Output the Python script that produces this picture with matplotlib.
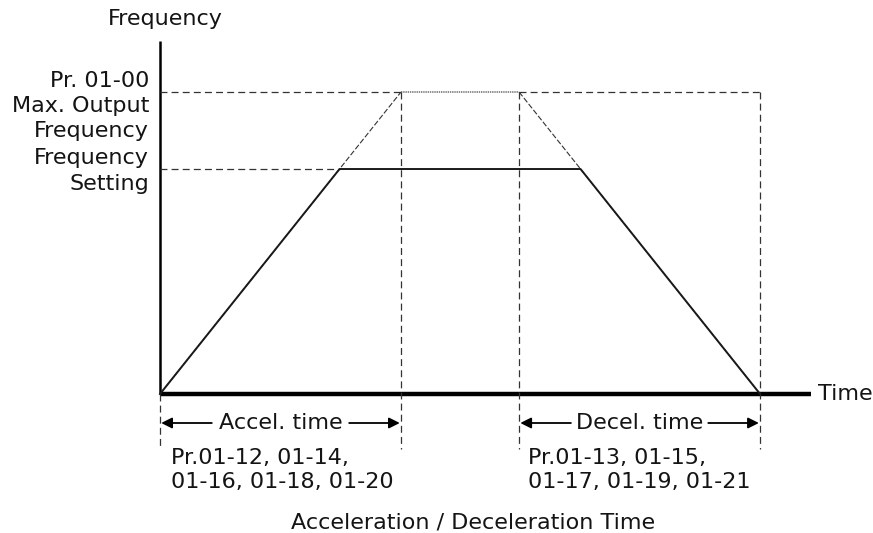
import matplotlib
matplotlib.use("Agg")
import matplotlib.pyplot as plt

# profile data (time in arbitrary units, frequency in % of max)
max_time = [0, 10, 14.9, 24.9]
max_freq = [0, 100, 100, 0]
set_time = [0, 7.45, 17.45, 24.9]
set_freq = [0, 74.5, 74.5, 0]

f_max = 100
f_set = 74.5
t_acc = 10
t_dec_start = 14.9
t_end = 24.9

max_label = "Pr. 01-00\nMax. Output\nFrequency"
set_label = "Frequency\nSetting"
acc_params = "Pr.01-12, 01-14,\n01-16, 01-18, 01-20"
dec_params = "Pr.01-13, 01-15,\n01-17, 01-19, 01-21"

plt.rcParams["font.family"] = ["DejaVu Sans"]
plt.rcParams["lines.scale_dashes"] = False
TXT = "#141414"
FS = 16

fig = plt.figure(figsize=(8.73, 5.33), dpi=100)
ax = fig.add_axes([0, 0, 1, 1])
ax.axis("off")

# pixel scale: origin at (160, 394), 24.1 px per time unit, 3.02 px per freq unit
px_t, px_f = 24.1, 3.02
ax.set_xlim(-160 / px_t, (873 - 160) / px_t)
ax.set_ylim(-(533 - 394) / px_f, 394 / px_f)

y_top = (394 - 41) / px_f
x_right = (811 - 160) / px_t
y_low = -(449 - 394) / px_f
y_arrow = -(423 - 394) / px_f

# axes
ax.plot([0, 0], [0, y_top], color="black", lw=1.8, solid_capstyle="butt")
ax.plot([0, x_right], [0, 0], color="black", lw=3.2, solid_capstyle="butt")

dash = dict(color="#333333", lw=0.9, dashes=(5, 3))
# reference lines
ax.plot([0, t_acc], [f_max, f_max], **dash)
ax.plot([t_acc, t_dec_start], [f_max, f_max], color="#777777", lw=1.2, dashes=(1, 0.6))
ax.plot([t_dec_start, t_end], [f_max, f_max], **dash)
ax.plot([0, set_time[1]], [f_set, f_set], **dash)
for t in [t_acc, t_dec_start, t_end]:
    ax.plot([t, t], [f_max, y_low], **dash)
ax.plot([0, 0], [0, y_low], **dash)

# max output profile (dashed) and set frequency profile (solid)
ax.plot(max_time[:2], max_freq[:2], color="#333333", lw=0.8, dashes=(4, 1.5))
ax.plot(max_time[2:], max_freq[2:], color="#333333", lw=0.8, dashes=(4, 1.5))
ax.plot(set_time, set_freq, color="#1a1a1a", lw=1.4)

# left labels
ax.annotate(max_label, xy=(0, f_max), xytext=(-11, -14), textcoords="offset pixels",
            ha="right", va="center", multialignment="right", fontsize=FS,
            color=TXT, linespacing=1.32)
ax.annotate(set_label, xy=(0, f_set), xytext=(-11, -2), textcoords="offset pixels",
            ha="right", va="center", multialignment="right", fontsize=FS,
            color=TXT, linespacing=1.32)
ax.text(0.2, y_top + 4, "Frequency", ha="center", va="bottom", fontsize=FS, color=TXT)
ax.annotate("Time", xy=(x_right, 0), xytext=(7, 0), textcoords="offset pixels",
            ha="left", va="center", fontsize=FS, color=TXT)

# accel / decel spans
arrow = dict(arrowstyle="-|>", color="black", lw=1.3, mutation_scale=16,
             shrinkA=0, shrinkB=0)
for t0, t1, name in [(0, t_acc, "Accel. time"), (t_dec_start, t_end, "Decel. time")]:
    mid = (t0 + t1) / 2
    half = 2.85
    ax.text(mid, y_arrow, name, ha="center", va="center", fontsize=FS, color=TXT)
    ax.annotate("", xy=(t0 + 0.05, y_arrow), xytext=(mid - half, y_arrow), arrowprops=arrow)
    ax.annotate("", xy=(t1 - 0.05, y_arrow), xytext=(mid + half, y_arrow), arrowprops=arrow)

ax.annotate(acc_params, xy=(0, y_arrow), xytext=(11, -47), textcoords="offset pixels",
            ha="left", va="center", fontsize=FS, color=TXT, linespacing=1.25)
ax.annotate(dec_params, xy=(t_dec_start, y_arrow), xytext=(9, -47), textcoords="offset pixels",
            ha="left", va="center", fontsize=FS, color=TXT, linespacing=1.25)

ax.text((473 - 160) / px_t, -(522 - 394) / px_f, "Acceleration / Deceleration Time",
        ha="center", va="center", fontsize=FS, color=TXT)

fig.savefig("out.png", dpi=100)
